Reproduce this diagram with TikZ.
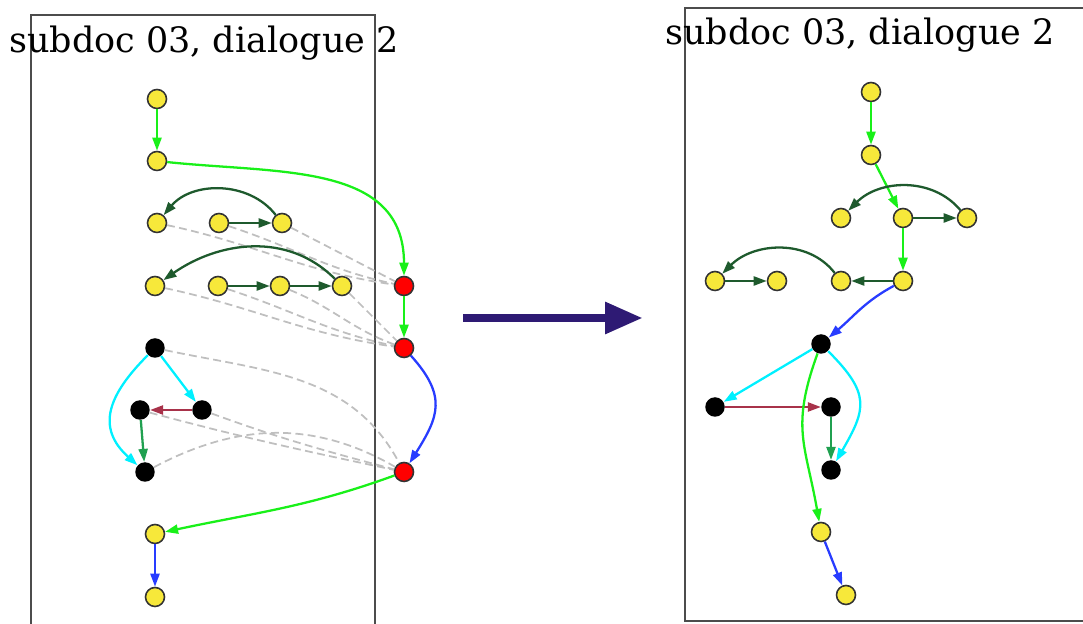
\documentclass[tikz,border=0pt]{standalone}
\usepackage{fontspec}
\setmainfont{DejaVu Serif}
\usetikzlibrary{arrows.meta}

\definecolor{nyellow}{RGB}{247,232,58}
\definecolor{lgreen}{RGB}{25,240,25}
\definecolor{dgreen}{RGB}{30,90,45}
\definecolor{mgreen}{RGB}{32,160,80}
\definecolor{eblue}{RGB}{40,60,255}
\definecolor{ecyan}{RGB}{0,240,255}
\definecolor{emaroon}{RGB}{168,50,74}
\definecolor{arrowpurple}{RGB}{46,26,116}

\tikzset{
  yn/.style={circle, draw=black!80, line width=0.9pt, fill=nyellow, minimum size=0.38cm, inner sep=0pt},
  rn/.style={yn, fill=red},
  bn/.style={circle, fill=black, minimum size=0.39cm, inner sep=0pt},
  edge/.style={line width=1.3pt, -{Triangle[length=2.6mm,width=1.8mm]}},
  lg/.style={edge, lgreen},
  dg/.style={edge, dgreen},
  mg/.style={edge, mgreen},
  bl/.style={edge, eblue},
  cy/.style={edge, ecyan},
  ma/.style={edge, emaroon},
  rel/.style={gray!50, line width=1pt, dash pattern=on 4.5pt off 2.5pt},
  panel/.style={draw=black!70, line width=1.2pt},
  title/.style={anchor=base, inner sep=0pt, font=\fontsize{19.9}{23}\selectfont}
}

\begin{document}
\begin{tikzpicture}[x=0.02cm, y=-0.02cm]
\path[use as bounding box, clip] (0,0) rectangle (1083,624);

% left panel
\draw[panel] (31,15) rectangle (375,660);
\node[title] (ltitle) at (204,53) {subdoc 03, dialogue 2};

\node[yn] (a1) at (157,99) {};
\node[yn] (a2) at (157,161) {};
\node[yn] (a3) at (157,223) {};
\node[yn] (a4) at (219,223) {};
\node[yn] (a5) at (282,223) {};
\node[yn] (a6) at (155,286) {};
\node[yn] (a7) at (218,286) {};
\node[yn] (a8) at (280,286) {};
\node[yn] (a9) at (342,286) {};
\node[bn] (k1) at (155,348) {};
\node[bn] (k2) at (140,410) {};
\node[bn] (k3) at (202,410) {};
\node[bn] (k4) at (145,472) {};
\node[yn] (a10) at (155,534) {};
\node[yn] (a11) at (155,597) {};
\node[rn] (s1) at (404,286) {};
\node[rn] (s2) at (404,348) {};
\node[rn] (s3) at (404,472) {};

% relations to the red nodes
\draw[rel] (a3) to[out=-12,in=172] (s1);
\draw[rel] (a4) to[out=-18,in=168] (s1);
\draw[rel] (a5) -- (s1);
\draw[rel] (a6) to[out=-12,in=172] (s2);
\draw[rel] (a7) to[out=-18,in=168] (s2);
\draw[rel] (a8) to[out=-22,in=160] (s2);
\draw[rel] (a9) -- (s2);
\draw[rel] (k1) to[out=-12,in=118] (s3);
\draw[rel] (k2) to[out=-15,in=168] (s3);
\draw[rel] (k3) to[out=-20,in=165] (s3);
\draw[rel] (k4) to[out=28,in=150] (s3);

\draw[lg] (a1) -- (a2);
\draw[lg] (a2) to[out=-6,in=90,looseness=1.1] (s1);
\draw[dg] (a5) to[out=128,in=50] (a3);
\draw[dg] (a4) -- (a5);
\draw[dg] (a9) to[out=135,in=35] (a6);
\draw[dg] (a7) -- (a8);
\draw[dg] (a8) -- (a9);
\draw[lg] (s1) -- (s2);
\draw[bl] (s2) to[out=-48,in=58,looseness=1.3] (s3);
\draw[lg] (s3) to[out=200,in=12] (a10);
\draw[bl] (a10) -- (a11);
\draw[cy] (k1) -- (k3);
\draw[cy] (k1) to[out=225,in=138,looseness=1.3] (k4);
\draw[ma] (k3) -- (k2);
\draw[mg] (k2) -- (k4);

% transformation arrow
\coordinate (from) at (463,318);
\coordinate (to) at (643,318);
\draw[arrowpurple, line width=5pt, -{Triangle[length=38*0.02cm,width=30*0.02cm]}] (from) -- (to);

% right panel
\draw[panel] (685,8) rectangle (1120,621);
\node[title] (rtitle) at (860,45) {subdoc 03, dialogue 2};

\node[yn] (b1) at (871,92) {};
\node[yn] (b2) at (871,155) {};
\node[yn] (b3) at (841,218) {};
\node[yn] (b4) at (903,218) {};
\node[yn] (b5) at (967,218) {};
\node[yn] (b6) at (715,281) {};
\node[yn] (b7) at (777,281) {};
\node[yn] (b8) at (841,281) {};
\node[yn] (b9) at (903,281) {};
\node[bn] (m1) at (821,344) {};
\node[bn] (m2) at (715,407) {};
\node[bn] (m3) at (831,407) {};
\node[bn] (m4) at (831,470) {};
\node[yn] (b10) at (821,532) {};
\node[yn] (b11) at (846,595) {};

\draw[lg] (b1) -- (b2);
\draw[lg] (b2) -- (b4);
\draw[dg] (b4) -- (b5);
\draw[dg] (b5) to[out=130,in=45] (b3);
\draw[lg] (b4) -- (b9);
\draw[dg] (b9) -- (b8);
\draw[dg] (b8) to[out=128,in=45] (b6);
\draw[dg] (b6) -- (b7);
\draw[bl] (b9) to[out=208,in=40] (m1);
\draw[cy] (m1) -- (m2);
\draw[cy] (m1) to[out=-45,in=60,looseness=1.4] (m4);
\draw[ma] (m2) -- (m3);
\draw[mg] (m3) -- (m4);
\draw[lg] (m1) to[out=-110,in=100,looseness=1.2] (b10);
\draw[bl] (b10) -- (b11);
\end{tikzpicture}
\end{document}
